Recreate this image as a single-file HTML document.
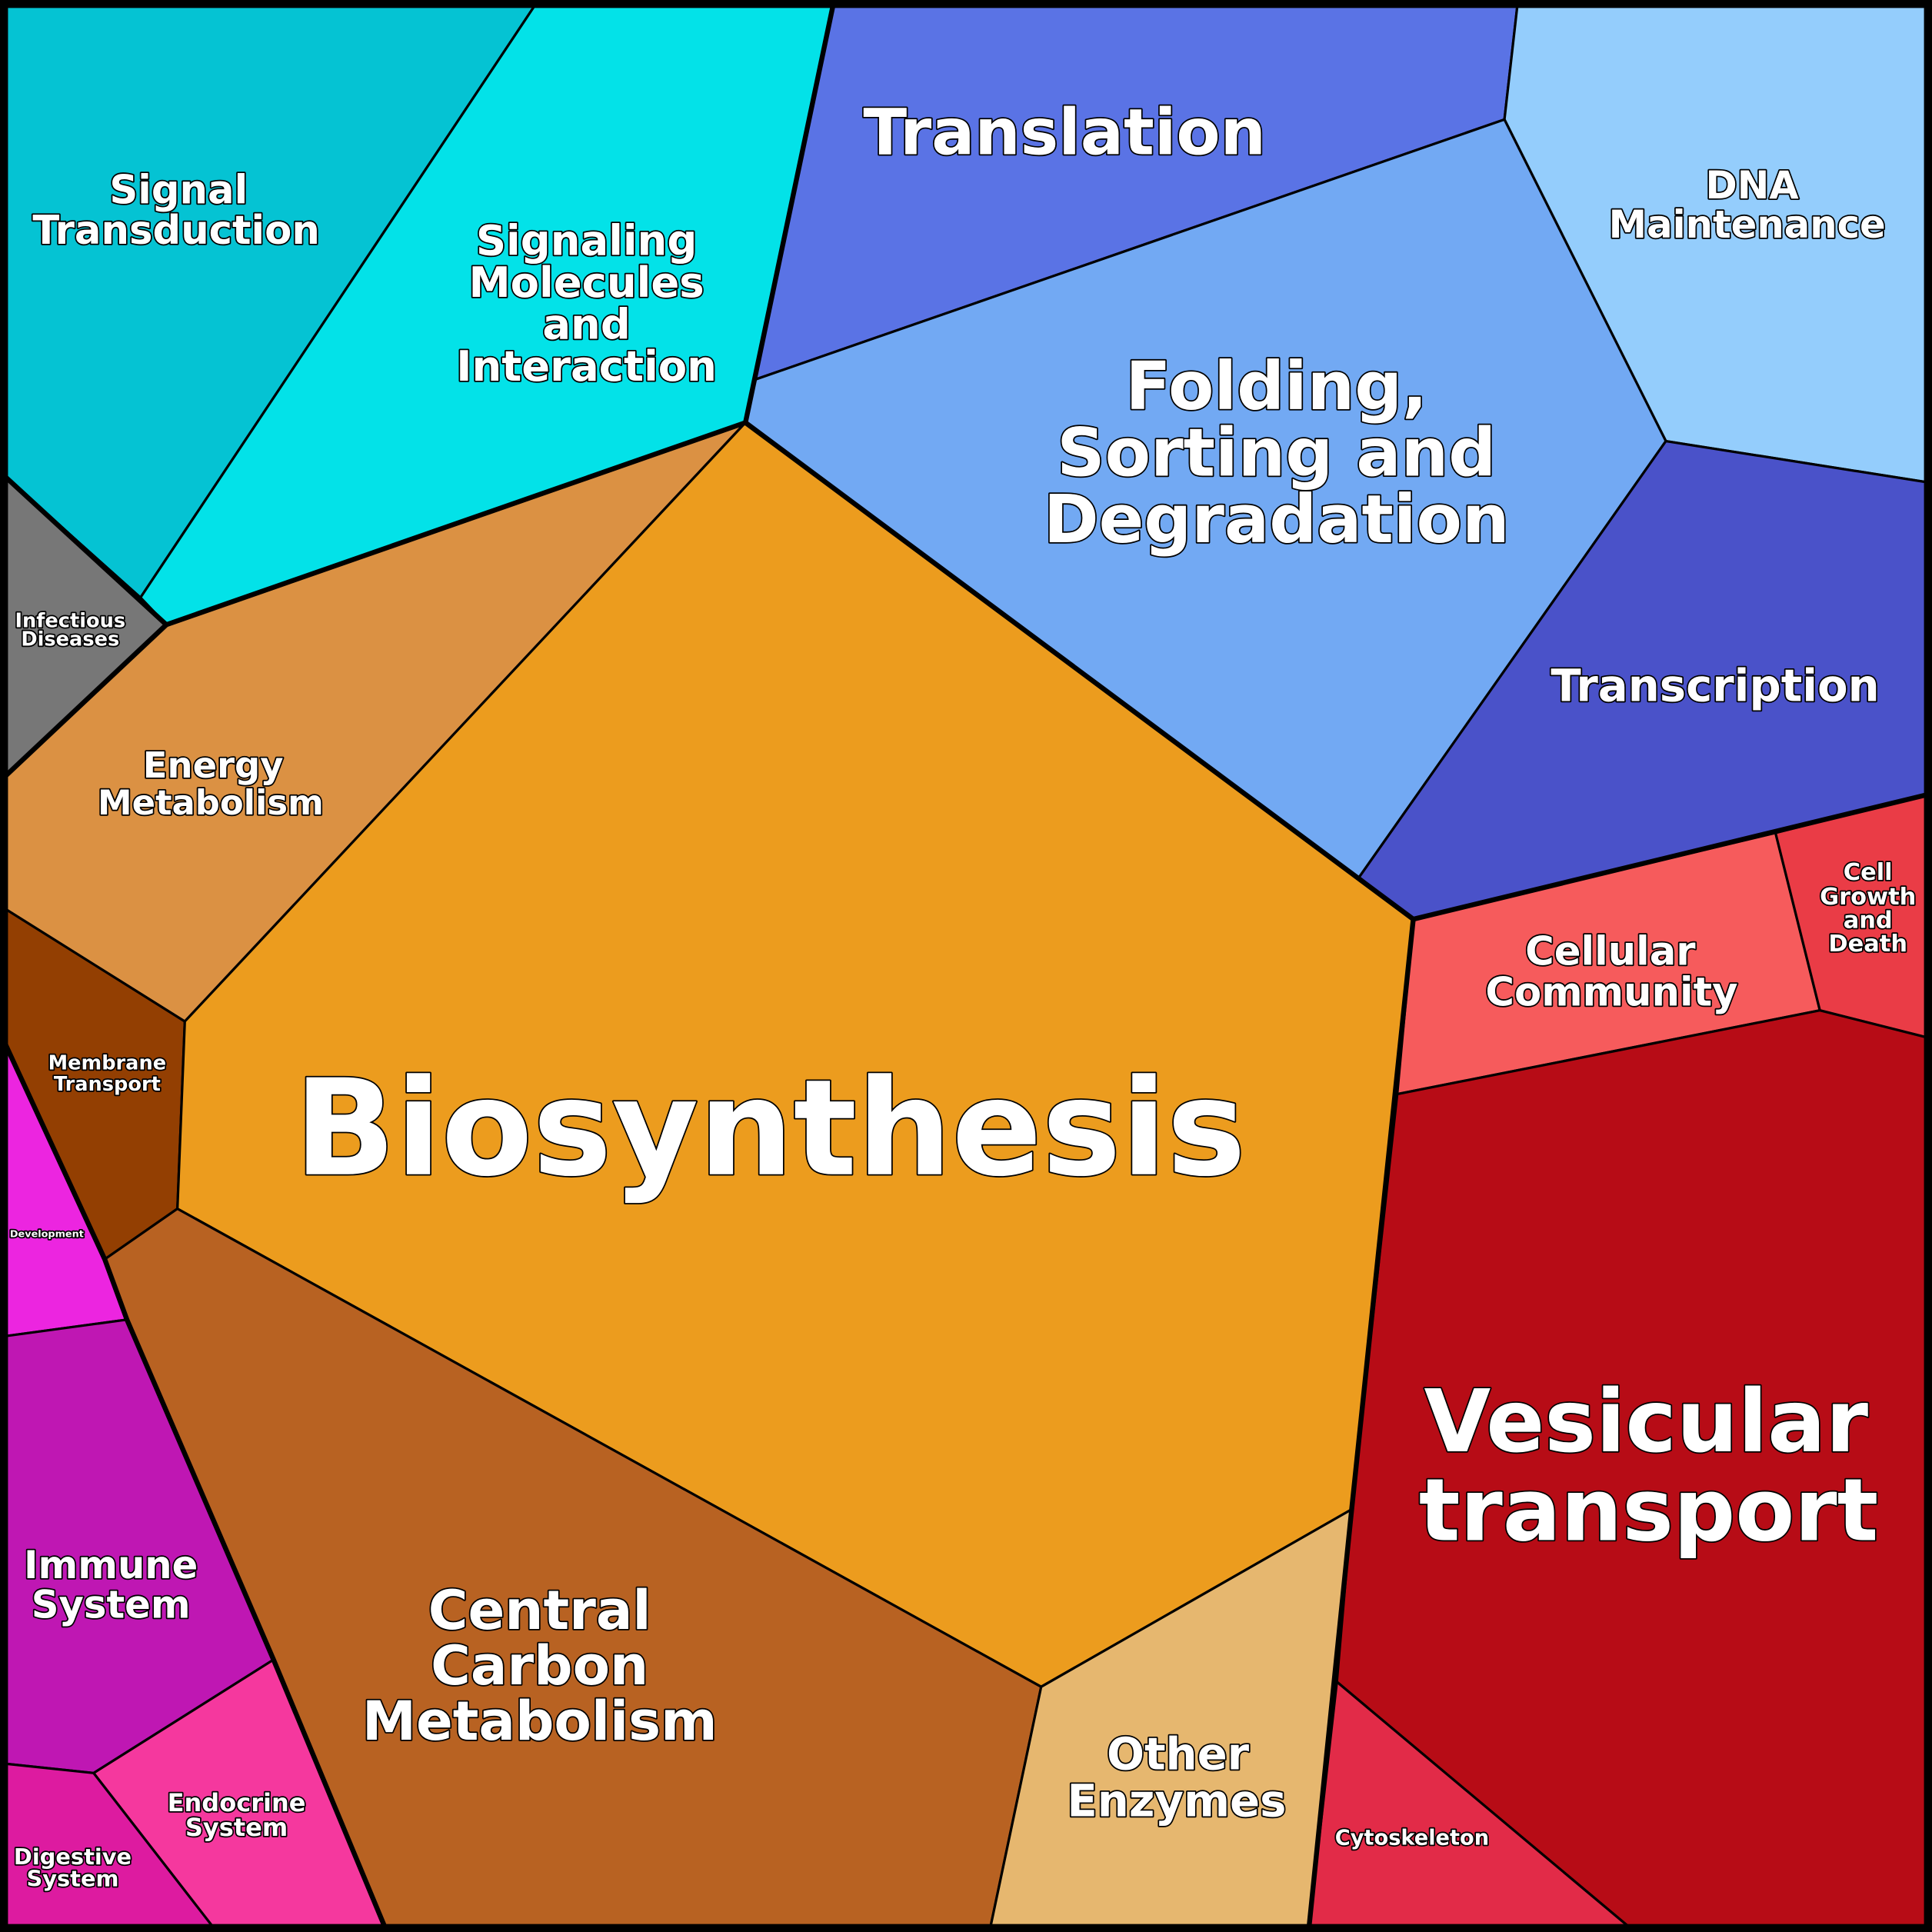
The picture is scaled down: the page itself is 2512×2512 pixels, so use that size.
<!DOCTYPE html>
<html><head><meta charset="utf-8"><style>
html,body{margin:0;padding:0;background:#000;}
svg{display:block}
text{font-family:"DejaVu Sans","Liberation Sans",sans-serif;font-weight:bold;fill:#fff;stroke:#000;stroke-width:2.2;paint-order:stroke;text-anchor:middle;stroke-linejoin:round}
</style></head><body>
<svg width="2512" height="2512" viewBox="0 0 1568 1568" xmlns="http://www.w3.org/2000/svg">
<g stroke="#000" stroke-width="2" stroke-linejoin="round">
<polygon fill="#05C3D3" points="0,0 437,0 114,485 0,383"/>
<polygon fill="#03E2E8" points="437,0 677,0 605,343 135,507 114,485"/>
<polygon fill="#5A73E5" points="677,0 1232,0 1221,97 613,308"/>
<polygon fill="#94CDFC" points="1232,0 1568,0 1568,392 1352,358 1221,97"/>
<polygon fill="#72A9F3" points="613,308 1221,97 1352,358 1103,712 1147,746 605,343"/>
<polygon fill="#4A52C9" points="1352,358 1568,392 1568,644 1147,746 1103,712"/>
<polygon fill="#777777" points="0,383 114,485 135,507 0,634"/>
<polygon fill="#DB9143" points="135,507 605,343 150,829 0,735 0,634"/>
<polygon fill="#933F02" points="0,735 150,829 144,981 85,1022 0,838"/>
<polygon fill="#EC9C1E" points="605,343 1147,746 1097,1225 845,1369 144,981 150,829"/>
<polygon fill="#EC25E0" points="0,838 85,1022 103,1071 0,1085"/>
<polygon fill="#BF17B3" points="0,1085 103,1071 222,1347 76,1439 0,1431"/>
<polygon fill="#F5389E" points="76,1439 222,1347 314,1568 176,1568"/>
<polygon fill="#DD1BA0" points="0,1431 76,1439 176,1568 0,1568"/>
<polygon fill="#B86222" points="85,1022 144,981 845,1369 803,1568 314,1568 222,1347 103,1071"/>
<polygon fill="#E6B76F" points="845,1369 1097,1225 1085,1365 1062,1568 803,1568"/>
<polygon fill="#F65B5C" points="1147,746 1441,676 1477,820 1134,888"/>
<polygon fill="#EA3C46" points="1441,676 1568,644 1568,843 1477,820"/>
<polygon fill="#B70C16" points="1134,888 1477,820 1568,843 1568,1568 1327,1568 1085,1365 1097,1225"/>
<polygon fill="#E22B48" points="1085,1365 1327,1568 1062,1568"/>
</g>
<g fill="none" stroke="#000" stroke-width="4" stroke-linejoin="round">
<polyline points="0,383 135,507 605,343 677,0"/>
<polyline points="0,634 135,507"/>
<polyline points="605,343 1147,746 1568,644"/>
<polyline points="1147,746 1097,1225 1062,1568"/>
<polyline points="0,838 85,1022 103,1071 222,1347 314,1568"/>
<rect x="3" y="3" width="1562" height="1562" stroke-width="7"/>
</g>
<text x="625" y="953" font-size="108">Biosynthesis</text>
<text x="1336" y="1178" font-size="70">Vesicular</text>
<text x="1338" y="1250" font-size="70">transport</text>
<text x="1036" y="332" font-size="54">Folding,</text>
<text x="1036" y="386" font-size="54">Sorting and</text>
<text x="1036" y="440" font-size="54">Degradation</text>
<text x="864" y="125" font-size="52">Translation</text>
<text x="1392" y="569" font-size="36">Transcription</text>
<text x="1422" y="161" font-size="31">DNA</text>
<text x="1418" y="193" font-size="31">Maintenance</text>
<text x="145" y="165" font-size="32">Signal</text>
<text x="143" y="198" font-size="32">Transduction</text>
<text x="476" y="207" font-size="34">Signaling</text>
<text x="476" y="241" font-size="34">Molecules</text>
<text x="476" y="275" font-size="34">and</text>
<text x="476" y="309" font-size="34">Interaction</text>
<text x="438" y="1322" font-size="44">Central</text>
<text x="438" y="1367" font-size="44">Carbon</text>
<text x="438" y="1412" font-size="44">Metabolism</text>
<text x="956" y="1436" font-size="36">Other</text>
<text x="955" y="1474" font-size="36">Enzymes</text>
<text x="1307" y="783" font-size="32">Cellular</text>
<text x="1308" y="816" font-size="32">Community</text>
<text x="1516" y="714" font-size="19">Cell</text>
<text x="1516" y="734" font-size="19">Growth</text>
<text x="1516" y="753" font-size="19">and</text>
<text x="1516" y="772" font-size="19">Death</text>
<text x="90" y="1281" font-size="31">Immune</text>
<text x="90" y="1313" font-size="31">System</text>
<text x="173" y="631" font-size="29">Energy</text>
<text x="171" y="661" font-size="28">Metabolism</text>
<text x="57" y="509" font-size="16">Infectious</text>
<text x="57" y="524" font-size="16">Diseases</text>
<text x="87" y="868" font-size="16">Membrane</text>
<text x="87" y="885" font-size="16">Transport</text>
<text x="38" y="1004" font-size="8" stroke-width="1">Development</text>
<text x="192" y="1470" font-size="20">Endocrine</text>
<text x="192" y="1490" font-size="20">System</text>
<text x="59" y="1513" font-size="18">Digestive</text>
<text x="59" y="1531" font-size="18">System</text>
<text x="1146" y="1497" font-size="17">Cytoskeleton</text>
</svg>
</body></html>
